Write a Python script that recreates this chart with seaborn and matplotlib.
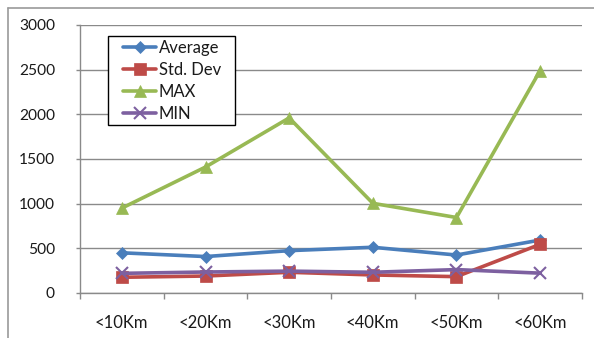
import matplotlib
matplotlib.use("Agg")
import matplotlib.pyplot as plt
import seaborn as sns
import pandas as pd
from matplotlib.lines import Line2D
from matplotlib.patches import Rectangle

categories = ["<10Km", "<20Km", "<30Km", "<40Km", "<50Km", "<60Km"]
average = [450, 408, 474, 512, 425, 593]
std_dev = [176, 190, 232, 202, 183, 545]
max_vals = [950, 1410, 1960, 1004, 845, 2490]
min_vals = [220, 235, 245, 232, 262, 222]

series_names = ["Average", "Std. Dev", "MAX", "MIN"]
series_values = [average, std_dev, max_vals, min_vals]
colors = ["#4A7EBB", "#BE4B48", "#98B954", "#7D60A0"]
markers = ["D", "s", "^", "x"]
marker_sizes = [6, 8, 8, 8]

frames = []
for name, vals in zip(series_names, series_values):
    frames.append(pd.DataFrame({"dist": categories, "value": vals, "series": name}))
df = pd.concat(frames, ignore_index=True)
df["pos"] = df["dist"].map({c: i for i, c in enumerate(categories)})

sns.set_style("white")
plt.rcParams["font.family"] = ["Lato", "DejaVu Sans"]

W, H = 594, 338
fig = plt.figure(figsize=(W / 100, H / 100), dpi=100)
ax_left, ax_right, ax_top, ax_bottom = 80, 582, 25, 293
ax = fig.add_axes([ax_left / W, (H - ax_bottom) / H,
                   (ax_right - ax_left) / W, (ax_bottom - ax_top) / H])

for name, col, mk, ms in zip(series_names, colors, markers, marker_sizes):
    sub = df[df["series"] == name]
    sns.lineplot(data=sub, x="pos", y="value", ax=ax, color=col, marker=mk,
                 markersize=ms, markeredgecolor=col,
                 markeredgewidth=1.5 if mk == "x" else 0.5,
                 linewidth=2.6, sort=False, legend=False)

ax.set_xlim(-0.5, len(categories) - 0.5)
ax.set_ylim(0, 3000)
ax.set_yticks(range(0, 3001, 500))
ax.set_xticks(range(len(categories)))
ax.set_xticklabels(categories)
ax.set_xticks([i - 0.5 for i in range(len(categories) + 1)], minor=True)
ax.set_xlabel("")
ax.set_ylabel("")

ax.yaxis.grid(True, color="#8a8a8a", linewidth=1.0)
ax.xaxis.grid(False)
ax.set_axisbelow(True)
for s in ["top", "right"]:
    ax.spines[s].set_visible(False)
for s in ["left", "bottom"]:
    ax.spines[s].set_color("#8a8a8a")
    ax.spines[s].set_linewidth(1.0)

ax.tick_params(axis="y", which="major", left=True, length=3, width=1, color="#8a8a8a",
               pad=15, labelsize=11.2, labelcolor="#1a1a1a")
ax.tick_params(axis="x", which="major", bottom=False, length=0, pad=16,
               labelsize=12, labelcolor="#1a1a1a")
ax.tick_params(axis="x", which="minor", bottom=True, length=4.3, width=1, color="#8a8a8a")

# legend entries, with a separate rectangular frame around them
pw = ax_right - ax_left
ph = ax_bottom - ax_top
handles = [Line2D([0], [0], color=c, marker=m, markersize=ms, markeredgecolor=c,
                  markeredgewidth=1.5 if m == "x" else 0.5, linewidth=2.6)
           for c, m, ms in zip(colors, markers, marker_sizes)]
leg = ax.legend(handles, series_names, loc="upper left",
                bbox_to_anchor=((123 - ax_left) / pw, (ax_bottom - 40) / ph),
                frameon=False, fontsize=12, handlelength=2.0, handletextpad=0.15,
                labelspacing=0.36, borderpad=0, borderaxespad=0)
for t in leg.get_texts():
    t.set_color("#1a1a1a")
ax.add_patch(Rectangle(((108 - ax_left) / pw, (ax_bottom - 125) / ph),
                       127 / pw, 89 / ph, transform=ax.transAxes, fill=True,
                       facecolor="white", edgecolor="black", linewidth=1.0,
                       zorder=4, clip_on=False))
leg.set_zorder(5)

# outer chart border
fig.add_artist(Line2D([8 / W, 8 / W], [0, 1 - 8 / H], color="#9a9a9a",
                      linewidth=1.2, transform=fig.transFigure))
fig.add_artist(Line2D([8 / W, 1], [1 - 8 / H, 1 - 8 / H], color="#9a9a9a",
                      linewidth=1.2, transform=fig.transFigure))

fig.savefig("out.png", dpi=100)
